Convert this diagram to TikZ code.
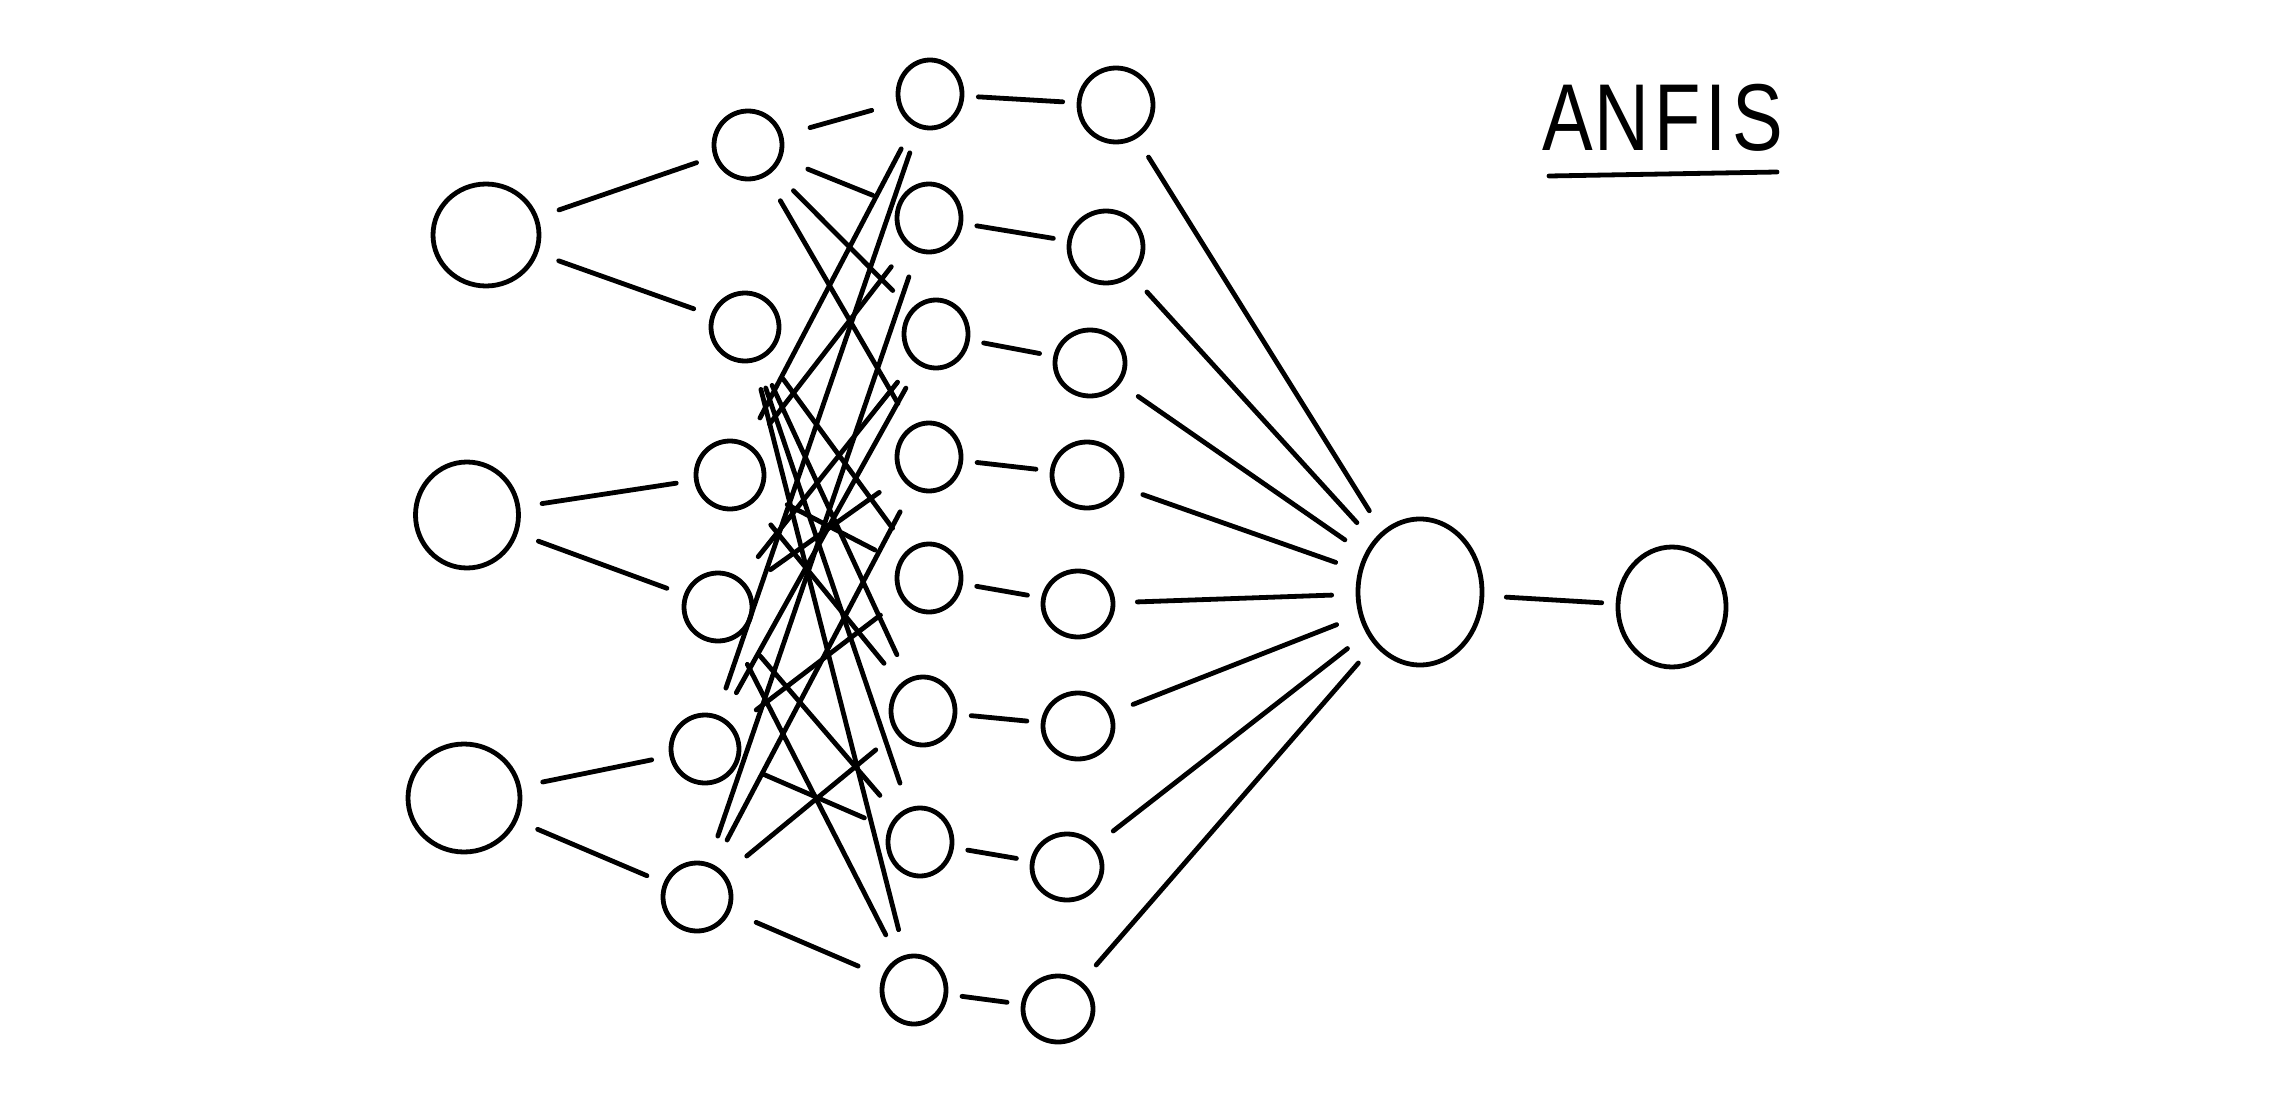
\documentclass[tikz,border=0pt]{standalone}
\usepackage{fontspec}
\setsansfont{Liberation Sans}
\usetikzlibrary{shapes.geometric}
\begin{document}
\begin{tikzpicture}[x=1pt,y=-1pt,line width=4.8pt,line cap=round,line join=round,
  nd/.style={draw,ellipse,inner sep=0pt,line width=4.8pt},
  inp/.style={nd,minimum width=106pt,minimum height=102pt},
  mf/.style={nd,minimum width=68pt,minimum height=68pt},
  rl/.style={nd,minimum width=64pt,minimum height=68pt},
  nr/.style={nd,minimum width=70pt,minimum height=66pt},
  e01/.style={shorten <=22pt,shorten >=18pt},
  e12/.style={shorten <=28pt,shorten >=26pt},
  e23/.style={shorten <=14pt,shorten >=14pt},
  e34/.style={shorten <=22pt,shorten >=24pt}]
\path[use as bounding box] (0,0) rectangle (2276,1100);
% inputs
\node[inp] (i1) at (486,235) {};
\node[inp,minimum width=103pt,minimum height=106pt] (i2) at (467,515) {};
\node[inp,minimum width=112pt,minimum height=108pt] (i3) at (464,798) {};
% membership functions
\node[mf] (m1) at (748,145) {};
\node[mf] (m2) at (745,327) {};
\node[mf] (m3) at (730,475) {};
\node[mf] (m4) at (718,607) {};
\node[mf] (m5) at (705,749) {};
\node[mf] (m6) at (697,897) {};
% rules
\node[rl] (r1) at (930,94) {};
\node[rl] (r2) at (929,218) {};
\node[rl] (r3) at (936,334) {};
\node[rl] (r4) at (929,457) {};
\node[rl] (r5) at (929,578) {};
\node[rl] (r6) at (923,711) {};
\node[rl] (r7) at (920,842) {};
\node[rl] (r8) at (914,990) {};
% normalisation
\node[nr,minimum width=74pt,minimum height=74pt] (n1) at (1116,105) {};
\node[nr,minimum width=74pt,minimum height=72pt] (n2) at (1106,247) {};
\node[nr] (n3) at (1090,363) {};
\node[nr] (n4) at (1087,475) {};
\node[nr] (n5) at (1078,604) {};
\node[nr] (n6) at (1078,726) {};
\node[nr] (n7) at (1067,867) {};
\node[nr] (n8) at (1058,1009) {};
% sum and output
\node[nd,minimum width=124pt,minimum height=146pt] (s) at (1420,592) {};
\node[nd,minimum width=108pt,minimum height=120pt] (o) at (1672,607) {};
% title
\node[font=\sffamily\fontsize{95}{95}\selectfont,anchor=base] (t) at (1663,150) {\scalebox{0.8}[1]{A\kern2pt N\kern6pt F\kern6pt I\kern8pt S}};
\coordinate (u1) at (1549,176);
\coordinate (u2) at (1777,172);
\draw (u1) -- (u2);
% layer 0 -> 1
\draw[e01] (i1) -- (m1); \draw[e01] (i1) -- (m2);
\draw[e01] (i2) -- (m3); \draw[e01] (i2) -- (m4);
\draw[e01] (i3) -- (m5); \draw[e01] (i3) -- (m6);
% layer 1 -> 2
\foreach \r/\a/\b/\c in {1/1/3/5,2/1/3/6,3/1/4/5,4/1/4/6,5/2/3/5,6/2/3/6,7/2/4/5,8/2/4/6}{
  \draw[e12] (m\a) -- (r\r);
  \draw[e12] (m\b) -- (r\r);
  \draw[e12] (m\c) -- (r\r);
}
% layer 2 -> 3
\foreach \k in {1,...,8}{\draw[e23] (r\k) -- (n\k);}
% layer 3 -> 4
\foreach \k in {1,...,8}{\draw[e34] (n\k) -- (s);}
% layer 4 -> 5
\draw[shorten <=22pt,shorten >=14pt] (s) -- (o);
\end{tikzpicture}
\end{document}
